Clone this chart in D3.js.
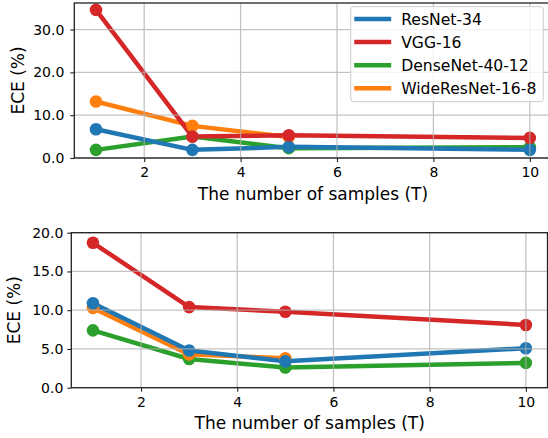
<!DOCTYPE html>
<html>
<head>
<meta charset="utf-8">
<script src="https://cdn.jsdelivr.net/npm/d3@7"></script>
<style>
  body { margin: 0; background: #fff; }
  svg { font-family: "DejaVu Sans", sans-serif; }
</style>
</head>
<body>
<div id="chart"></div>
<script>
// number of samples T
const samples = [1, 3, 5, 10];
const names = ["ResNet-34", "VGG-16", "DenseNet-40-12", "WideResNet-16-8"];
const colors = ["#1f77b4", "#d62728", "#2ca02c", "#ff7f0e"];

// top panel ECE (%)
const topResNet = [6.7, 1.9, 2.6, 1.9];
const topVGG = [34.6, 5.0, 5.3, 4.7];
const topDense = [1.9, 5.0, 2.3, 2.5];
const topWide = [13.2, 7.5, 4.9];

// bottom panel ECE (%)
const botResNet = [10.9, 4.8, 3.4, 5.1];
const botVGG = [18.7, 10.4, 9.8, 8.1];
const botDense = [7.4, 3.7, 2.6, 3.2];
const botWide = [10.3, 4.3, 3.8];

const topTicks = [0, 10, 20, 30];
const botTicks = [0, 5, 10, 15, 20];
const xTicks = [2, 4, 6, 8, 10];

const W = 548, H = 438;
const svg = d3.select("#chart").append("svg")
    .attr("width", W).attr("height", H);

// drawing order: green, orange, blue, red (red on top)
const order = [2, 3, 0, 1];

function panel(cfg) {
    const x = d3.scaleLinear().domain([0.55, 10.45]).range([cfg.left, cfg.right]);
    const y = d3.scaleLinear().domain(cfg.yDomain).range([cfg.bottom, cfg.top]);
    const g = svg.append("g");

    const clip = "clip" + cfg.id;
    g.append("clipPath").attr("id", clip).append("rect")
        .attr("x", cfg.left).attr("y", cfg.top)
        .attr("width", cfg.right - cfg.left).attr("height", cfg.bottom - cfg.top);

    const line = d3.line().x(d => x(d[0])).y(d => y(d[1]));
    const plot = g.append("g").attr("clip-path", "url(#" + clip + ")");

    order.forEach(i => {
        const pts = cfg.series[i].map((v, j) => [samples[j], v]);
        plot.append("path")
            .attr("d", line(pts))
            .attr("fill", "none")
            .attr("stroke", colors[i])
            .attr("stroke-width", 4.5)
            .attr("stroke-linejoin", "round");
    });

    // grid (drawn over the lines, under the markers)
    const grid = g.append("g").attr("stroke", "#b0b0b0").attr("stroke-width", 1.3).attr("opacity", 0.75);
    grid.selectAll(".gx").data(xTicks).enter().append("line")
        .attr("x1", d => x(d)).attr("x2", d => x(d))
        .attr("y1", cfg.top).attr("y2", cfg.bottom);
    grid.selectAll(".gy").data(cfg.yTicks).enter().append("line")
        .attr("x1", cfg.left).attr("x2", cfg.right)
        .attr("y1", d => y(d)).attr("y2", d => y(d));

    order.forEach(i => {
        const pts = cfg.series[i].map((v, j) => [samples[j], v]);
        plot.selectAll(null).data(pts).enter().append("circle")
            .attr("cx", d => x(d[0])).attr("cy", d => y(d[1]))
            .attr("r", 6.3)
            .attr("fill", colors[i]);
    });

    // spines
    g.append("rect")
        .attr("x", cfg.left).attr("y", cfg.top)
        .attr("width", cfg.right - cfg.left).attr("height", cfg.bottom - cfg.top)
        .attr("fill", "none").attr("stroke", "#222").attr("stroke-width", 1.3);

    // axes
    const xAxis = d3.axisBottom(x).tickValues(xTicks).tickSize(4).tickPadding(5).tickFormat(d3.format("d"));
    const gx = g.append("g").attr("transform", "translate(0," + cfg.bottom + ")").call(xAxis);
    const yAxis = d3.axisLeft(y).tickValues(cfg.yTicks).tickSize(4).tickPadding(cfg.yPad).tickFormat(d3.format(".1f"));
    const gy = g.append("g").attr("transform", "translate(" + cfg.left + ",0)").call(yAxis);
    [gx, gy].forEach(a => {
        a.select(".domain").remove();
        a.selectAll(".tick line").attr("stroke", "#222").attr("stroke-width", 1.1);
        a.selectAll(".tick text").attr("fill", "#000")
            .style("font-size", "14px").style("font-family", "DejaVu Sans, sans-serif");
    });

    g.append("text")
        .attr("x", cfg.labelX).attr("y", cfg.bottom + 41.5)
        .attr("text-anchor", "middle")
        .style("font-size", "17px")
        .text("The number of samples (T)");

    g.append("text")
        .attr("transform", "translate(" + cfg.yLabelX + "," + ((cfg.top + cfg.bottom) / 2) + ") rotate(-90)")
        .attr("text-anchor", "middle")
        .style("font-size", "17px")
        .text("ECE (%)");

    return g;
}

panel({
    id: "top", left: 74.3, right: 551.5, top: 3, bottom: 158,
    yDomain: [0, 36.2], yTicks: topTicks, yPad: 6,
    series: [topResNet, topVGG, topDense, topWide],
    labelX: 313, yLabelX: 24
});

panel({
    id: "bot", left: 71.3, right: 547.5, top: 232.7, bottom: 387.7,
    yDomain: [0, 20], yTicks: botTicks, yPad: 4,
    series: [botResNet, botVGG, botDense, botWide],
    labelX: 309.7, yLabelX: 20
});

// legend (top panel)
const legend = svg.append("g").attr("transform", "translate(350.7,6.7)");
legend.append("rect")
    .attr("width", 192.6).attr("height", 95).attr("rx", 3)
    .attr("fill", "#fff").attr("fill-opacity", 0.8)
    .attr("stroke", "#ccc").attr("stroke-width", 1);
const rows = legend.selectAll(".row").data(names).enter().append("g")
    .attr("transform", (d, i) => "translate(0," + (12.3 + i * 23.1) + ")");
rows.append("line")
    .attr("x1", 3.5).attr("x2", 40.5)
    .attr("stroke", (d, i) => colors[i]).attr("stroke-width", 4.5);
rows.append("text")
    .attr("x", 50.5).attr("y", 5.6)
    .style("font-size", "15.6px")
    .text(d => d);
</script>
</body>
</html>
